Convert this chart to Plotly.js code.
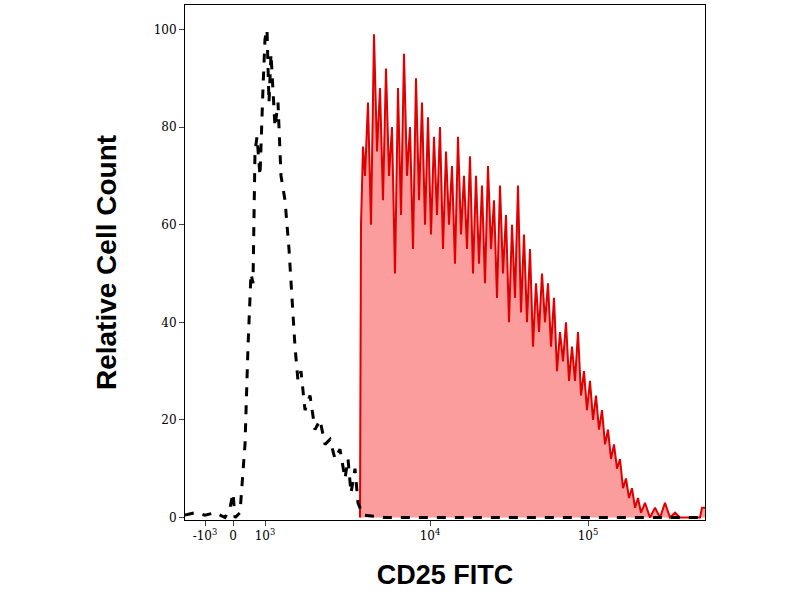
<html><head><script src="https://cdn.plot.ly/plotly-3.0.1.min.js"></script></head>
<body style="margin:0"><div id="c" style="width:800px;height:600px"></div>
<script>
// x in display channels (biexponential-like display scale)
const tickVals=[20,48,80,245,403];
const tickText=["-10<sup>3</sup>","0","10<sup>3</sup>","10<sup>4</sup>","10<sup>5</sup>"];
const isoX=[0,10,20,30,40,45,48,50,55,60,63,66,68,70,72,75,78,80,82,84,86,88,90,93,96,100,104,107,110,113,116,120,125,130,135,140,145,150,155,160,163,166,170,173,178,200,260,340,420,520];
const isoY=[0.5,1,0.5,1,0,2,5,0,1,15,35,50,48,75,78,70,88,98,100,85,95,88,80,85,70,65,55,45,35,28,30,22,25,18,20,15,16,12,14,8,12,5,10,3,0.5,0,0,0,0,0];
const cdX=[175,176,178,180,183,186,189,192,195,198,201,204,207,210,213,216,219,222,225,228,231,234,237,240,243,246,249,252,255,258,261,264,267,270,273,276,279,282,285,288,291,294,297,300,303,306,309,312,315,318,321,324,327,330,333,336,339,342,345,348,351,354,357,360,363,366,369,372,375,378,381,384,387,390,393,396,399,402,405,408,411,414,417,420,423,426,429,432,435,438,441,444,447,450,453,456,460,465,470,475,480,485,490,495,505,515,517,520];
const cdY=[0,60,76,70,85,60,99,75,88,65,92,70,80,50,88,62,95,70,80,55,90,65,85,60,82,58,78,62,80,55,75,60,72,52,78,58,70,55,74,50,70,52,68,48,72,55,65,45,68,50,62,40,60,45,68,42,58,40,55,35,48,38,50,40,48,35,45,30,38,32,40,28,35,28,38,25,30,22,28,20,25,18,22,15,18,12,15,10,12,6,8,4,6,2,4,1,3,0,2,0,3,0,1,0,0,0,2,2];
Plotly.newPlot('c',[
 {x:cdX,y:cdY,mode:'lines',fill:'tozeroy',fillcolor:'rgba(250,140,140,0.85)',line:{color:'#e00000',width:2}},
 {x:isoX,y:isoY,mode:'lines',line:{color:'black',width:3,dash:'dash'}}
],{width:800,height:600,showlegend:false,paper_bgcolor:'white',plot_bgcolor:'white',
 margin:{l:185,r:95,t:5,b:80},
 xaxis:{range:[0,520],tickvals:tickVals,ticktext:tickText,showgrid:false,zeroline:false,showline:true,mirror:true,linecolor:'black',ticks:'outside',ticklen:5,
   tickfont:{family:'DejaVu Serif',size:12,color:'black'},title:{text:'CD25 FITC',font:{family:'Liberation Sans',size:27,color:'black',weight:'bold'},standoff:22}},
 yaxis:{range:[-0.5,105],tickvals:[0,20,40,60,80,100],showgrid:false,zeroline:false,showline:true,mirror:true,linecolor:'black',ticks:'outside',ticklen:5,
   tickfont:{family:'DejaVu Serif',size:12,color:'black'},title:{text:'Relative Cell Count',font:{family:'Liberation Sans',size:28,color:'black',weight:'bold'},standoff:28}}
},{displayModeBar:false});
</script></body></html>
